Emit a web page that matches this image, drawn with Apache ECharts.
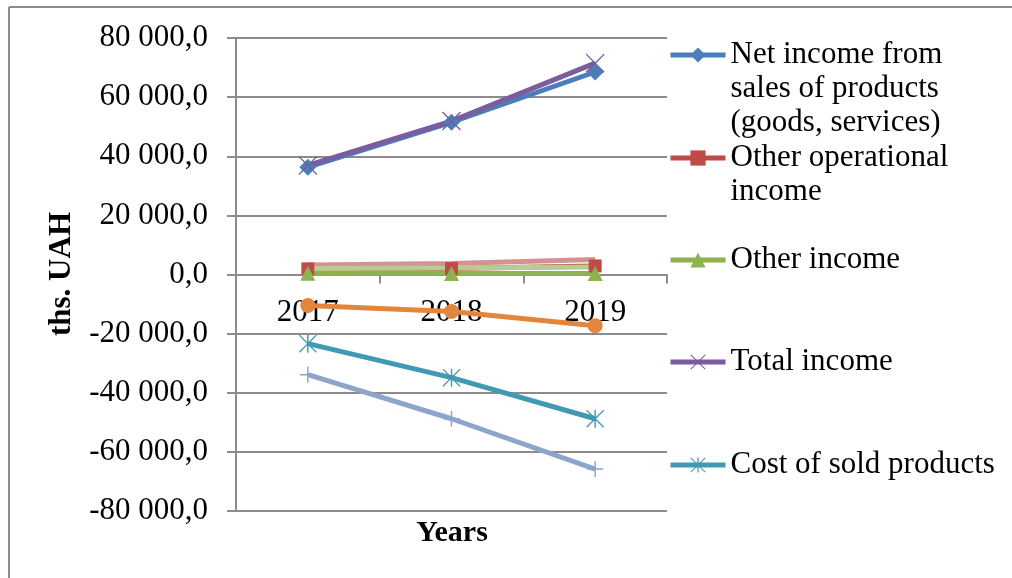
<!DOCTYPE html>
<html>
<head>
<meta charset="utf-8">
<script src="https://cdn.jsdelivr.net/npm/echarts@6/dist/echarts.min.js"></script>
<style>
  html, body { margin: 0; padding: 0; background: #fff; }
  #chart { width: 1012px; height: 578px; }
</style>
</head>
<body>
<div id="chart"></div>
<script>
// Income and cost indicators, ths. UAH, by year
const years = ['2017', '2018', '2019'];

const netIncome = [36300, 51500, 68500];
const otherOperationalIncome = [1900, 2000, 2900];
const otherIncome = [400, 350, 300];
const totalIncome = [36900, 51900, 71500];
const costOfSoldProducts = [-23400, -34900, -48800];
const series6 = [-10500, -12500, -17300];
const series7 = [-33900, -48800, -65800];
const series8 = [3200, 3700, 5100];
const series9 = [2000, 2200, 2500];

const yTicks = { min: -80000, max: 80000, step: 20000 };

const FONT = 'Liberation Serif';
const GRID_COLOR = '#8c8c8c';

// plot area edges (px)
const PLOT = { left: 236, right: 345, top: 38, bottom: 67 };
const PLOT_H = 578 - PLOT.top - PLOT.bottom;

// thin stroke-like marker shapes
const X_PATH = 'path://M1,0L10,9L19,0L20,1L11,10L20,19L19,20L10,11L1,20L0,19L9,10L0,1Z';
const STAR_PATH = 'path://M1,0L10,9L19,0L20,1L11,10L20,19L19,20L10,11L1,20L0,19L9,10L0,1Z M9.2,0L10.8,0L10.8,20L9.2,20Z';
const PLUS_PATH = 'path://M9.1,0L10.9,0L10.9,9.1L20,9.1L20,10.9L10.9,10.9L10.9,20L9.1,20L9.1,10.9L0,10.9L0,9.1L9.1,9.1Z';

function fmt(v) {
  const s = Math.abs(v).toString().replace(/\B(?=(\d{3})+(?!\d))/g, ' ');
  return (v < 0 ? '-' : '') + s + ',0';
}

function line(name, data, color, symbol, size) {
  return {
    name: name,
    type: 'line',
    data: data,
    symbol: symbol,
    symbolSize: size,
    showAllSymbol: true,
    lineStyle: { color: color, width: 5 },
    itemStyle: { color: color },
    emphasis: { disabled: true }
  };
}

const legendBase = {
  orient: 'vertical',
  left: 668,
  padding: 0,
  itemWidth: 55,
  itemHeight: 19,
  selectedMode: false,
  lineStyle: { width: 5 },
  textStyle: { fontFamily: FONT, fontSize: 31, color: '#000', lineHeight: 34 }
};

const chart = echarts.init(document.getElementById('chart'), null, { renderer: 'canvas' });

// distance the category axis sits above the plot bottom so it runs along zero
const zeroOffset = -PLOT_H * (0 - yTicks.min) / (yTicks.max - yTicks.min);

chart.setOption({
  animation: false,
  backgroundColor: '#fff',
  grid: { left: PLOT.left, right: PLOT.right, top: PLOT.top, bottom: PLOT.bottom, containLabel: false },
  legend: [
    // leading blank lines keep the marker beside the first line of wrapped names
    Object.assign({}, legendBase, {
      bottom: 438,
      data: ['Net income from sales of products (goods, services)'],
      formatter: () => '\n\nNet income from\nsales of products\n(goods, services)'
    }),
    Object.assign({}, legendBase, {
      top: 107,
      data: ['Other operational income'],
      formatter: () => '\nOther operational\nincome'
    }),
    Object.assign({}, legendBase, { top: 243, data: ['Other income'] }),
    Object.assign({}, legendBase, { top: 345, data: ['Total income'] }),
    Object.assign({}, legendBase, { top: 448, data: ['Cost of sold products'] })
  ],
  xAxis: {
    type: 'category',
    data: years,
    boundaryGap: true,
    position: 'bottom',
    offset: zeroOffset,
    axisLine: { onZero: false, lineStyle: { color: GRID_COLOR, width: 2 } },
    axisTick: { show: true, inside: false, length: 9, lineStyle: { color: GRID_COLOR, width: 2 } },
    axisLabel: { margin: 23, fontFamily: FONT, fontSize: 31, color: '#000' },
    splitLine: { show: false }
  },
  yAxis: {
    type: 'value',
    min: yTicks.min,
    max: yTicks.max,
    interval: yTicks.step,
    axisLine: { show: true, lineStyle: { color: GRID_COLOR, width: 2 } },
    axisTick: { show: true, inside: false, length: 9, lineStyle: { color: GRID_COLOR, width: 2 } },
    axisLabel: { margin: 28, fontFamily: FONT, fontSize: 31, color: '#000', formatter: fmt },
    splitLine: { show: true, lineStyle: { color: GRID_COLOR, width: 2 } }
  },
  series: [
    line('Net income from sales of products (goods, services)', netIncome, '#4a7ebb', 'diamond', 17),
    line('Other operational income', otherOperationalIncome, '#be4b48', 'rect', 13),
    line('Other income', otherIncome, '#8eb24f', 'triangle', 15),
    line('Total income', totalIncome, '#7a5d9e', X_PATH, 19),
    line('Cost of sold products', costOfSoldProducts, '#4299b3', STAR_PATH, 18),
    line('Series 6', series6, '#e2863d', 'circle', 15),
    line('Series 7', series7, '#8ea5cb', PLUS_PATH, 16),
    line('Series 8', series8, '#d49393', 'none', 1),
    line('Series 9', series9, '#b5cd8f', 'none', 1)
  ],
  graphic: [
    { type: 'line', shape: { x1: 9, y1: 7, x2: 1012, y2: 7 }, style: { stroke: GRID_COLOR, lineWidth: 2 } },
    { type: 'line', shape: { x1: 9, y1: 7, x2: 9, y2: 578 }, style: { stroke: GRID_COLOR, lineWidth: 2 } },
    {
      type: 'text', x: 62, y: 274, rotation: Math.PI / 2,
      style: { text: 'ths. UAH', fontFamily: FONT, fontSize: 31, fontWeight: 'bold', fill: '#000', align: 'center', verticalAlign: 'middle' }
    },
    {
      type: 'text', x: 452, y: 533,
      style: { text: 'Years', fontFamily: FONT, fontSize: 30, fontWeight: 'bold', fill: '#000', align: 'center', verticalAlign: 'middle' }
    }
  ]
});
</script>
</body>
</html>
